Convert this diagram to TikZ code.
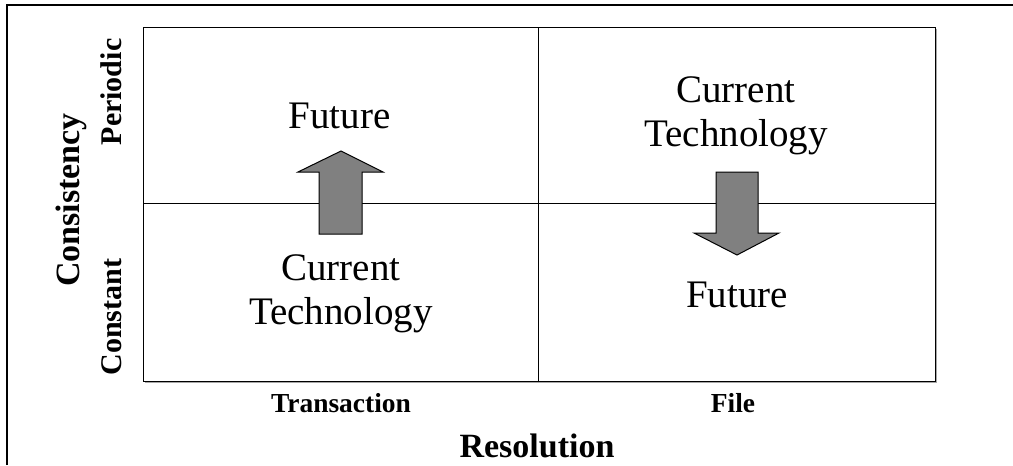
\documentclass[tikz,border=0pt]{standalone}
\usepackage{fontspec}
\setmainfont{Liberation Serif}
\usetikzlibrary{positioning}
\tikzset{
  quadtext/.style={font=\fontsize{29.25}{33}\selectfont, inner sep=0pt, align=center},
  achse/.style={font=\fontsize{20.6}{24}\selectfont\bfseries, inner sep=0pt},
  achsetitel/.style={font=\fontsize{25.5}{30}\selectfont\bfseries, inner sep=0pt},
  pfeil/.style={draw=black, fill=black!50, line width=0.75pt, line join=miter},
}
\begin{document}
\begin{tikzpicture}[x=0.75pt,y=-0.75pt]
\useasboundingbox (0,0) rectangle (1013,465);
%Koordinaten in Pixeln des Bildes, y nach unten
  \pgfmathsetmacro{\xL}{143}
  \pgfmathsetmacro{\xM}{538}
  \pgfmathsetmacro{\xR}{935}
  \pgfmathsetmacro{\yO}{27}
  \pgfmathsetmacro{\yM}{203}
  \pgfmathsetmacro{\yU}{381}
%Rahmen, nur oben und links
\draw[line width=1.5pt] (6.5,465) -- (6.5,5) -- (1013,5);
%Schatten und Matrix
\draw[gray!70,line width=1pt] (\xR+1.5,\yO+1.5) -- (\xR+1.5,\yU+1.5) -- (\xL+1.5,\yU+1.5);
\draw[line width=0.75pt] (\xL,\yO) rectangle (\xR,\yU);
\draw[line width=0.75pt] (\xM,\yO) -- (\xM,\yU) (\xL,\yM) -- (\xR,\yM);
%Pfeile
\draw[pfeil] (319,234) -- (319,172) -- (298,172) -- (341,151) -- (383,172) -- (362,172) -- (362,234) -- cycle;
\draw[pfeil] (716,172) -- (758,172) -- (758,233) -- (779,233) -- (737,255) -- (694,233) -- (716,233) -- cycle;
%Quadranten
\node[quadtext, anchor=base] (futureTL) at (339.5,128) {Future};
\node[quadtext, anchor=north] (currentTR) at (736,76) {Current\\Technology};
\node[quadtext, anchor=north] (currentBL) at (341,254) {Current\\Technology};
\node[quadtext, anchor=base] (futureBR) at (737,307) {Future};
%Achsen
\node[achse, anchor=base] (transaction) at (341,412) {Transaction};
\node[achse, anchor=base] (file) at (733,412) {File};
\node[achsetitel, anchor=base] (resolution) at (537,457) {Resolution};
\node[achsetitel, anchor=base, rotate=90] (consistency) at (79,200) {Consistency};
\node[achse, anchor=base, rotate=90, font=\fontsize{22.5}{26}\selectfont\bfseries] (periodic) at (121.5,92) {Periodic};
\node[achse, anchor=base, rotate=90, font=\fontsize{22.5}{26}\selectfont\bfseries] (constant) at (121.5,317) {Constant};
\end{tikzpicture}
\end{document}
